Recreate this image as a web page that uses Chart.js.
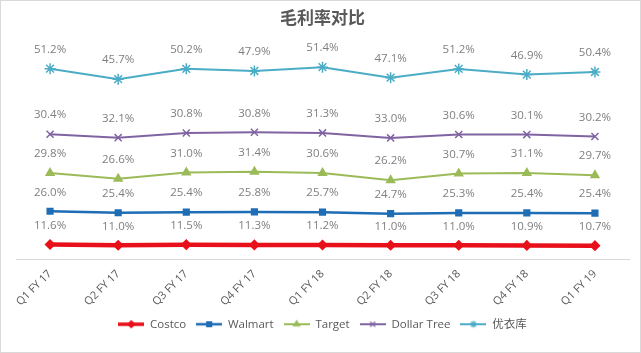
<!DOCTYPE html>
<html>
<head>
<meta charset="utf-8">
<script src="https://cdn.jsdelivr.net/npm/chart.js@4"></script>
<style>
  body { margin: 0; background: #fff; }
  #wrap { width: 641px; height: 353px; box-sizing: border-box; border: 1px solid #d9d9d9; }
</style>
</head>
<body>
<div id="wrap"><canvas id="chart" width="639" height="351"></canvas></div>
<script>
const quarters = ['Q1 FY 17', 'Q2 FY 17', 'Q3 FY 17', 'Q4 FY 17', 'Q1 FY 18', 'Q2 FY 18', 'Q3 FY 18', 'Q4 FY 18', 'Q1 FY 19'];
const costco = [11.6, 11.0, 11.5, 11.3, 11.2, 11.0, 11.0, 10.9, 10.7];
const walmart = [26.0, 25.4, 25.4, 25.8, 25.7, 24.7, 25.3, 25.4, 25.4];
const target = [29.8, 26.6, 31.0, 31.4, 30.6, 26.2, 30.7, 31.1, 29.7];
const dollarTree = [30.4, 32.1, 30.8, 30.8, 31.3, 33.0, 30.6, 30.1, 30.2];
const uniqlo = [51.2, 45.7, 50.2, 47.9, 51.4, 47.1, 51.2, 46.9, 50.4];

const FONT = '"Open Sans", "Noto Sans CJK SC", sans-serif';

function series(label, data, color, width, style, r) {
  return {
    label, data,
    borderColor: color, backgroundColor: color,
    borderWidth: width,
    pointStyle: style, pointRadius: r, pointBorderWidth: 1.5,
    pointBackgroundColor: color, pointBorderColor: color,
    fill: false, tension: 0
  };
}

// values written above each point
const dataLabels = {
  id: 'dataLabels',
  afterDatasetsDraw(chart) {
    const ctx = chart.ctx;
    ctx.save();
    ctx.font = '11.5px ' + FONT;
    ctx.fillStyle = '#7f7f7f';
    ctx.textAlign = 'center';
    ctx.textBaseline = 'middle';
    chart.data.datasets.forEach((ds, i) => {
      chart.getDatasetMeta(i).data.forEach((pt, j) => {
        ctx.fillText(ds.data[j].toFixed(1) + '%', pt.x, pt.y - 19);
      });
    });
    ctx.restore();
  }
};

const datasets = [
  series('Costco', costco, '#e8101a', 4.5, 'rectRot', 4.5),
  series('Walmart', walmart, '#1f6db5', 2.5, 'rect', 4),
  series('Target', target, '#9bbb59', 2, 'triangle', 4.5),
  series('Dollar Tree', dollarTree, '#8064a2', 2, 'crossRot', 5),
  series('优衣库', uniqlo, '#4bacc6', 2, 'star', 5.5)
];

// line + marker icon for the legend, like Excel
const icons = datasets.map(d => {
  const c = document.createElement('canvas');
  c.width = 26; c.height = 12;
  const ctx = c.getContext('2d');
  ctx.strokeStyle = d.borderColor;
  ctx.fillStyle = d.borderColor;
  ctx.lineWidth = Math.min(d.borderWidth, 3.5);
  ctx.beginPath(); ctx.moveTo(0, 6); ctx.lineTo(26, 6); ctx.stroke();
  ctx.lineWidth = 1.2;
  Chart.helpers.drawPoint(ctx, { pointStyle: d.pointStyle, radius: 3.5, borderWidth: 1.2 }, 13, 6);
  return c;
});

new Chart(document.getElementById('chart'), {
  type: 'line',
  data: { labels: quarters, datasets },
  options: {
    responsive: false,
    animation: false,
    layout: { padding: { left: 15, right: 11, top: 0, bottom: 12 } },
    plugins: {
      title: {
        display: true, text: '毛利率对比',
        color: '#595959',
        font: { family: FONT, size: 17, weight: 'bold' },
        padding: { top: 8, bottom: 6 }
      },
      legend: {
        position: 'bottom',
        labels: {
          color: '#595959',
          font: { family: FONT, size: 11.5 },
          usePointStyle: true,
          pointStyleWidth: 26,
          boxHeight: 12,
          padding: 10,
          generateLabels(chart) {
            return chart.data.datasets.map((d, i) => ({
              text: d.label, pointStyle: icons[i], fontColor: '#595959',
              strokeStyle: 'transparent', fillStyle: 'transparent', lineWidth: 0,
              datasetIndex: i, hidden: false
            }));
          }
        }
      },
      tooltip: { enabled: false }
    },
    scales: {
      x: {
        offset: true,
        grid: { display: false },
        border: { display: true, color: '#d9d9d9', width: 1 },
        ticks: {
          color: '#595959', font: { family: FONT, size: 11 },
          minRotation: 45, maxRotation: 45, padding: 0
        }
      },
      y: {
        display: false,
        stacked: true,
        min: 0, max: 175
      }
    }
  },
  plugins: [dataLabels]
});
</script>
</body>
</html>
